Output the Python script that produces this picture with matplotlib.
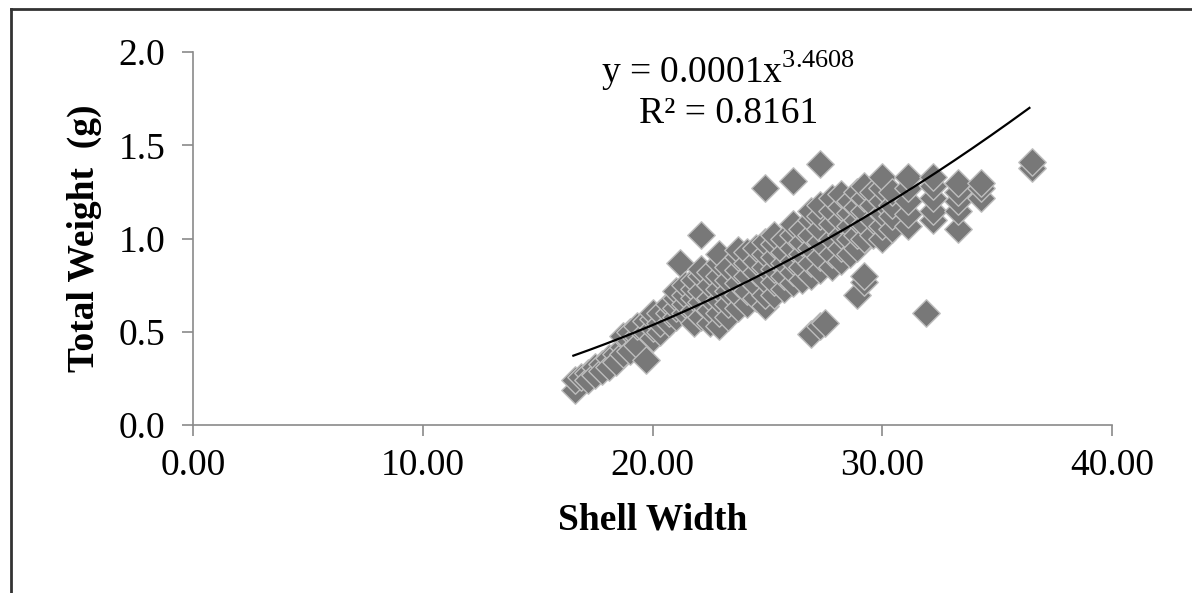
#!/usr/bin/env python3
# shell width vs total weight scatter with power trendline

import numpy as np
import matplotlib
matplotlib.use('Agg')
import matplotlib.pyplot as plt
from matplotlib.lines import Line2D

plt.rcParams['font.family'] = ['Liberation Serif', 'DejaVu Serif']
plt.rcParams['mathtext.fontset'] = 'custom'
plt.rcParams['mathtext.rm'] = 'Liberation Serif'

# Shell width columns and the total weights measured at each
width_cols = [16.6, 16.9, 17.2, 17.5, 17.8, 18.1, 18.4, 18.7, 19.0, 19.3,
              19.7, 20.0, 20.3, 20.7, 21.0, 21.2, 21.4, 21.8, 22.1, 22.5,
              22.9, 23.3, 23.7, 24.1, 24.5, 24.9, 25.3, 25.7, 26.1, 26.5,
              26.9, 27.3, 27.5, 27.8, 28.2, 28.6, 28.9, 29.2, 29.6, 30.0,
              30.4, 31.1, 31.9, 32.2, 33.3, 34.3, 36.5]
weight_cols = [
    [0.19, 0.24],
    [0.26],
    [0.28, 0.24],
    [0.31, 0.27],
    [0.33, 0.29],
    [0.36, 0.31],
    [0.38, 0.34],
    [0.42, 0.38, 0.48],
    [0.45, 0.40, 0.50],
    [0.48, 0.43, 0.53],
    [0.35, 0.50, 0.56],
    [0.47, 0.52, 0.57, 0.60],
    [0.50, 0.55, 0.60],
    [0.55, 0.60, 0.65],
    [0.58, 0.63, 0.68, 0.72],
    [0.87],
    [0.60, 0.65, 0.70, 0.75],
    [0.55, 0.62, 0.68, 0.73, 0.78],
    [1.02, 0.58, 0.66, 0.72, 0.80, 0.84],
    [0.55, 0.62, 0.68, 0.75, 0.82],
    [0.53, 0.60, 0.67, 0.73, 0.80, 0.87, 0.92],
    [0.58, 0.65, 0.72, 0.78, 0.85],
    [0.63, 0.70, 0.76, 0.83, 0.90, 0.94],
    [0.65, 0.72, 0.80, 0.87, 0.93],
    [0.68, 0.75, 0.82, 0.88, 0.95],
    [1.27, 0.64, 0.70, 0.78, 0.85, 0.92, 0.98],
    [0.70, 0.77, 0.84, 0.90, 0.97, 1.02],
    [0.73, 0.80, 0.87, 0.93, 1.00],
    [1.31, 0.76, 0.82, 0.88, 0.95, 1.02, 1.08],
    [0.78, 0.85, 0.92, 0.98, 1.05],
    [0.49, 0.80, 0.87, 0.95, 1.02, 1.10, 1.15],
    [0.53, 1.40, 0.83, 0.90, 0.98, 1.05, 1.12, 1.18],
    [0.55],
    [0.85, 0.92, 1.00, 1.08, 1.15, 1.22],
    [0.88, 0.95, 1.02, 1.10, 1.17, 1.24],
    [0.92, 1.00, 1.07, 1.14, 1.20],
    [0.70, 0.95, 1.02, 1.10, 1.17, 1.25],
    [0.77, 0.80, 1.00, 1.08, 1.15, 1.22, 1.28],
    [1.02, 1.10, 1.18, 1.25],
    [1.00, 1.07, 1.14, 1.20, 1.27, 1.33],
    [1.05, 1.12, 1.18, 1.25],
    [1.07, 1.13, 1.20, 1.27, 1.33],
    [0.60],
    [1.10, 1.15, 1.22, 1.28, 1.33],
    [1.05, 1.15, 1.20, 1.25, 1.30],
    [1.22, 1.27, 1.30],
    [1.38, 1.41],
]

trend_x = [16.55, 19.9, 24.2, 28.6, 36.4]
trend_y = [0.375, 0.525, 0.78, 1.07, 1.70]

x_ticks = [0, 10, 20, 30, 40]
y_ticks = [0.0, 0.5, 1.0, 1.5, 2.0]

shell_width = np.concatenate([[w] * len(ys) for w, ys in zip(width_cols, weight_cols)])
total_weight = np.concatenate(weight_cols)

FS = 27

fig = plt.figure(figsize=(11.92, 5.93), dpi=100)
ax = fig.add_axes([0.162, 0.283, 0.771, 0.629])

ax.scatter(shell_width, total_weight, marker='D', s=195,
           facecolor='#787878', edgecolor='#bdbdbd', linewidth=1.0, zorder=2)

# power fit through the trendline points
b, log_a = np.polyfit(np.log(trend_x), np.log(trend_y), 1)
xs = np.linspace(trend_x[0], trend_x[-1], 200)
ax.plot(xs, np.exp(log_a) * xs ** b, color='black', linewidth=1.6, zorder=3)

ax.set_xlim(0, 40)
ax.set_ylim(0, 2.0)
ax.set_xticks(x_ticks)
ax.set_xticklabels([f'{v:.2f}' for v in x_ticks])
ax.set_yticks(y_ticks)
ax.set_yticklabels([f'{v:.1f}' for v in y_ticks])
ax.tick_params(direction='out', length=8, width=1.2, color='#8a8a8a',
               labelsize=FS)
ax.tick_params(axis='y', pad=12)
ax.tick_params(axis='x', pad=9)
for side in ['top', 'right']:
    ax.spines[side].set_visible(False)
for side in ['left', 'bottom']:
    ax.spines[side].set_color('#8a8a8a')
    ax.spines[side].set_linewidth(1.2)

ax.set_xlabel('Shell Width', fontsize=FS, fontweight='bold', labelpad=14)
ax.set_ylabel('Total Weight  (g)', fontsize=FS, fontweight='bold', labelpad=12)

ax.text(23.3, 1.90, r'y = 0.0001x$^{\mathrm{3.4608}}$', fontsize=FS,
        ha='center', va='center')
ax.text(23.3, 1.67, 'R² = 0.8161', fontsize=FS, ha='center', va='center')

# outer chart frame (left and top edges visible)
fig.add_artist(Line2D([0.0095, 0.0095], [0.0, 0.985], transform=fig.transFigure,
                      color='#333333', linewidth=2))
fig.add_artist(Line2D([0.0095, 1.0], [0.985, 0.985], transform=fig.transFigure,
                      color='#333333', linewidth=2))

fig.savefig('out.png', dpi=100, facecolor='white')
